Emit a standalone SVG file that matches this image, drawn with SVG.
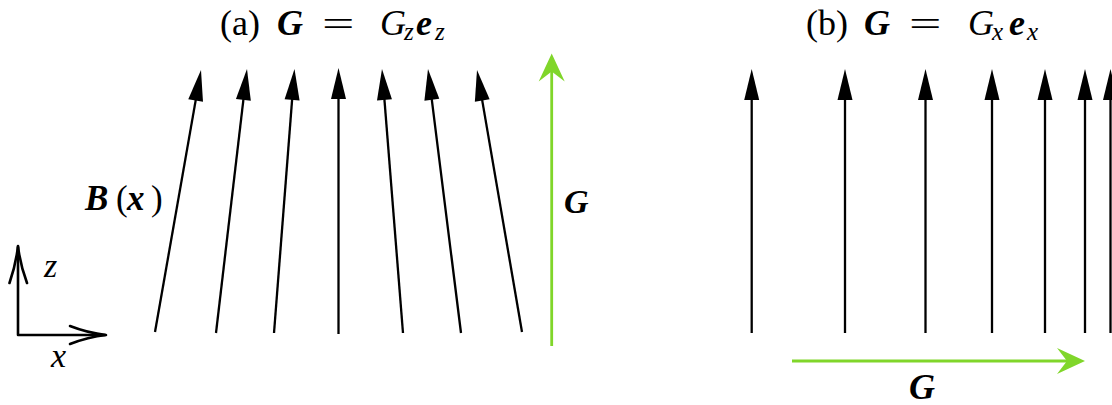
<svg xmlns="http://www.w3.org/2000/svg" width="1112" height="405" viewBox="0 0 1112 405">
<style>
.t{font-family:"Liberation Serif","DejaVu Serif",serif;fill:#000}
.bi{font-weight:bold;font-style:italic}
.i{font-style:italic}
.fl{stroke:#000;stroke-width:2.3;fill:none}
.gr{stroke:#80d62a;stroke-width:2.8;fill:none}
.ax{stroke:#000;stroke-width:2.6;fill:none;stroke-linejoin:round;stroke-linecap:round}
</style>
<defs>
<marker id="hb" markerUnits="userSpaceOnUse" markerWidth="31" markerHeight="15" viewBox="0 -7.5 31 15" refX="3" refY="0" orient="auto" overflow="visible">
<path d="M0,-7.5 L31,0 L0,7.5 Z" fill="#000"/>
</marker>
<marker id="hg" markerUnits="userSpaceOnUse" markerWidth="28" markerHeight="26" viewBox="0 -13 28 26" refX="12" refY="0" orient="auto" overflow="visible">
<path d="M0,-13 L28,0 L0,13 L10,0 Z" fill="#80d62a"/>
</marker>
</defs>

<g id="axes">
<path class="ax" d="M18,335 V247 M18,335 H105"/>
<path class="ax" d="M9.5,283 Q16,264 18,246 Q20,264 27,283"/>
<path class="ax" d="M70,326 Q88,333 106,335 Q88,337 70,344"/>
<text class="t i" x="44" y="277" font-size="34">z</text>
<text class="t i" x="51" y="367" font-size="34">x</text>
</g>

<g id="panel-a-title">
<text class="t" y="35" font-size="36"><tspan x="220">(a)</tspan><tspan class="bi" x="277">G</tspan><tspan class="i" x="380">G</tspan><tspan class="i" x="404" dy="5" font-size="25">z</tspan><tspan class="bi" x="416" dy="-5">e</tspan><tspan class="i" x="435" dy="5" font-size="25">z</tspan></text>
<text class="t" x="0" y="0" font-size="36" transform="translate(322,36) scale(1.6,1)">=</text>
</g>

<g id="label-B">
<text class="t" y="210" font-size="35"><tspan class="bi" x="85">B</tspan><tspan x="116">(</tspan><tspan class="bi" x="127">x</tspan><tspan x="151">)</tspan></text>
</g>

<g id="connectors">
<g id="field-a">
<path class="fl" marker-end="url(#hb)" d="M155,332 L196.16,97.58"/>
<path class="fl" marker-end="url(#hb)" d="M216,333 L243.73,96.81"/>
<path class="fl" marker-end="url(#hb)" d="M274,333 L292.33,96.92"/>
<path class="fl" marker-end="url(#hb)" d="M338.5,334 L338.5,96"/>
<path class="fl" marker-end="url(#hb)" d="M403,333 L384.22,96.91"/>
<path class="fl" marker-end="url(#hb)" d="M461,333 L431.47,96.78"/>
<path class="fl" marker-end="url(#hb)" d="M522,332 L481.74,97.6"/>
</g>
<path id="G-a" class="gr" marker-end="url(#hg)" d="M551.7,346 V69.5"/>
<g id="field-b">
<path class="fl" marker-end="url(#hb)" d="M751.7,333 V97"/>
<path class="fl" marker-end="url(#hb)" d="M845,333 V97"/>
<path class="fl" marker-end="url(#hb)" d="M925.5,333 V97"/>
<path class="fl" marker-end="url(#hb)" d="M992,333 V97"/>
<path class="fl" marker-end="url(#hb)" d="M1045,333 V97"/>
<path class="fl" marker-end="url(#hb)" d="M1085,333 V97"/>
<path class="fl" marker-end="url(#hb)" d="M1110.5,333 V97"/>
</g>
<path id="G-b" class="gr" marker-end="url(#hg)" d="M792,361 H1069"/>
</g>

<g id="label-G-a">
<text class="t bi" x="564" y="213" font-size="34">G</text>
</g>

<g id="panel-b-title">
<text class="t" y="35" font-size="36"><tspan x="806">(b)</tspan><tspan class="bi" x="864">G</tspan><tspan class="i" x="968">G</tspan><tspan class="i" x="992" dy="5" font-size="25">x</tspan><tspan class="bi" x="1009" dy="-5">e</tspan><tspan class="i" x="1027" dy="5" font-size="25">x</tspan></text>
<text class="t" x="0" y="0" font-size="36" transform="translate(909,36) scale(1.6,1)">=</text>
</g>

<g id="label-G-b">
<text class="t bi" x="909" y="399" font-size="36">G</text>
</g>
</svg>
